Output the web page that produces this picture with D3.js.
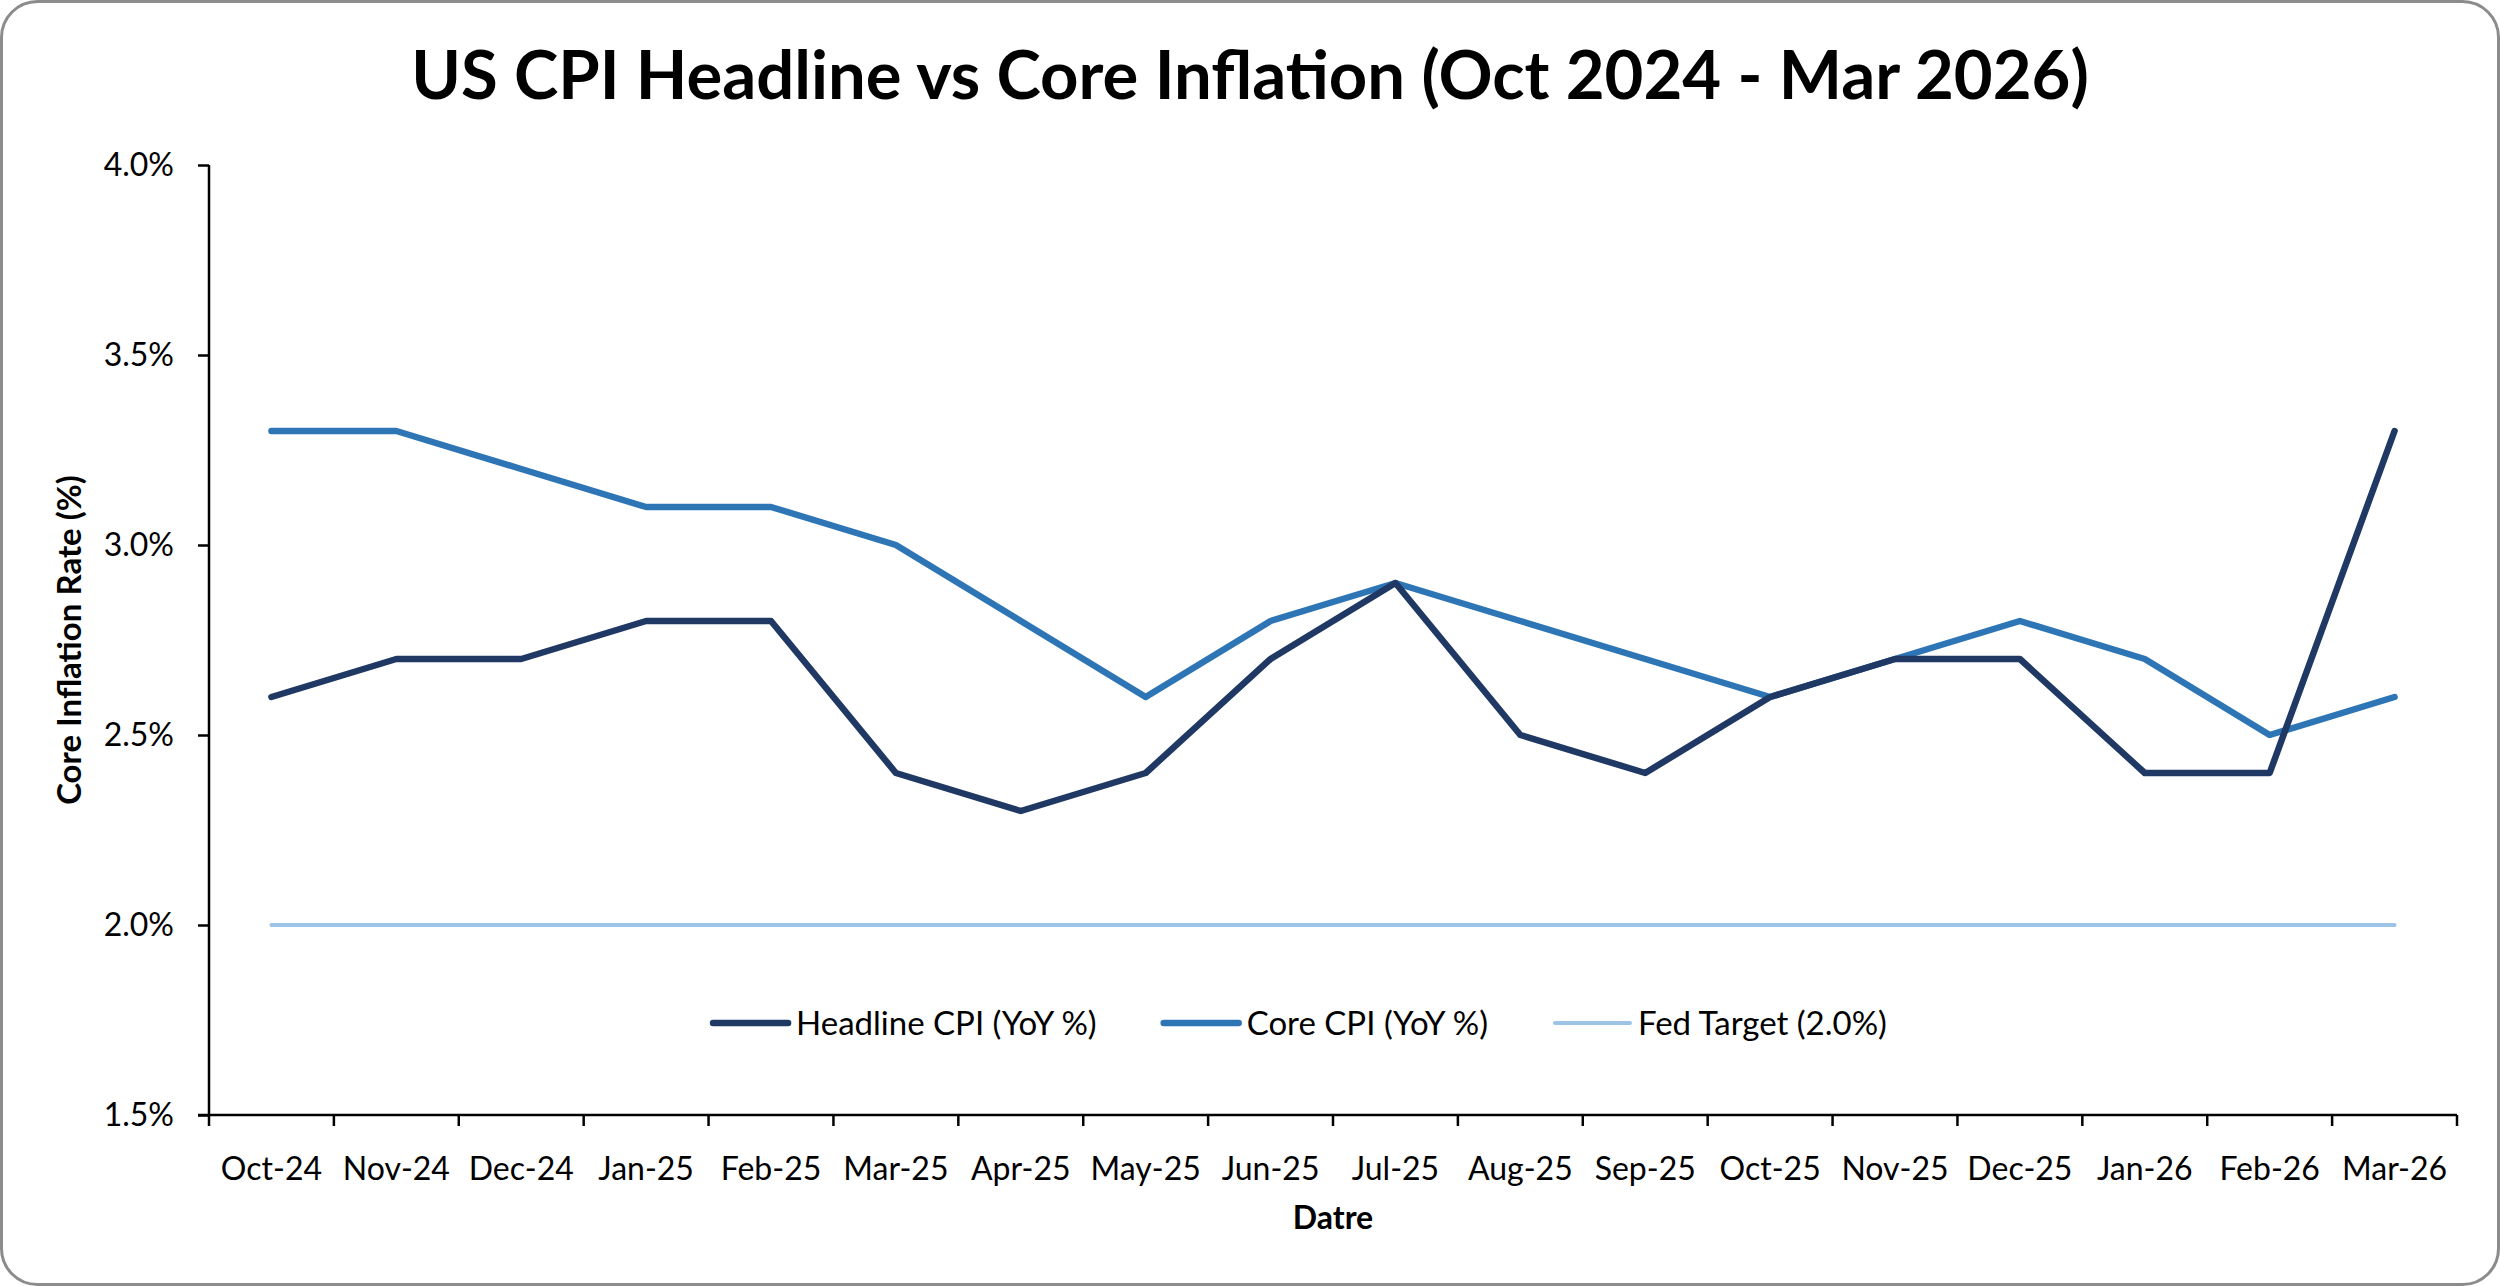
<!DOCTYPE html>
<html>
<head>
<meta charset="utf-8">
<script src="https://cdn.jsdelivr.net/npm/d3@7"></script>
<style>
  html, body { margin: 0; padding: 0; background: #fff; }
  svg text { font-family: Lato, "Open Sans", sans-serif; fill: #000; }
</style>
</head>
<body>
<div id="chart"></div>
<script>
// chart data
var months = ["Oct-24", "Nov-24", "Dec-24", "Jan-25", "Feb-25", "Mar-25", "Apr-25", "May-25", "Jun-25",
              "Jul-25", "Aug-25", "Sep-25", "Oct-25", "Nov-25", "Dec-25", "Jan-26", "Feb-26", "Mar-26"];
var headline = [2.6, 2.7, 2.7, 2.8, 2.8, 2.4, 2.3, 2.4, 2.7, 2.9, 2.5, 2.4, 2.6, 2.7, 2.7, 2.4, 2.4, 3.3];
var core     = [3.3, 3.3, 3.2, 3.1, 3.1, 3.0, 2.8, 2.6, 2.8, 2.9, 2.8, 2.7, 2.6, 2.7, 2.8, 2.7, 2.5, 2.6];
var fedTarget = [2.0, 2.0, 2.0, 2.0, 2.0, 2.0, 2.0, 2.0, 2.0, 2.0, 2.0, 2.0, 2.0, 2.0, 2.0, 2.0, 2.0, 2.0];
var seriesNames = ["Headline CPI (YoY %)", "Core CPI (YoY %)", "Fed Target (2.0%)"];
var yTicks = [1.5, 2.0, 2.5, 3.0, 3.5, 4.0];

var W = 2500, H = 1286;
var m = {left: 209, right: 2457, top: 165, bottom: 1115};

var svg = d3.select('#chart').append('svg').attr('width', W).attr('height', H);

// frame
svg.append('rect')
  .attr('x', 1.5).attr('y', 1.5)
  .attr('width', W - 3).attr('height', H - 3)
  .attr('rx', 36).attr('ry', 36)
  .style('fill', '#fff').style('stroke', '#8c8c8c').style('stroke-width', 3);

var x = d3.scaleBand().domain(months).range([m.left, m.right]).padding(0);
var y = d3.scaleLinear().domain([1.5, 4.0]).range([m.bottom, m.top]);

// y axis
var yAxis = svg.append('g')
  .attr('transform', 'translate(' + m.left + ',0)')
  .call(d3.axisLeft(y).tickValues(yTicks).tickSize(11).tickPadding(24)
    .tickFormat(function(d) { return d.toFixed(1) + '%'; }));
yAxis.select('.domain').remove();
yAxis.selectAll('.tick line').style('stroke', '#000').style('stroke-width', 2.5);
yAxis.selectAll('.tick text').style('font-size', '32px').style('font-family', 'Lato');

// x axis (ticks between categories)
var xAxis = svg.append('g')
  .attr('transform', 'translate(0,' + m.bottom + ')')
  .call(d3.axisBottom(x).tickSize(0).tickPadding(42));
xAxis.select('.domain').remove();
xAxis.selectAll('.tick text').style('font-size', '32px').style('font-family', 'Lato');

var bounds = months.map(function(d) { return x(d); }).concat([m.right]);
svg.append('g').selectAll('line')
  .data(bounds)
  .enter()
  .append('line')
  .attr('x1', function(d) { return d; })
  .attr('x2', function(d) { return d; })
  .attr('y1', m.bottom)
  .attr('y2', m.bottom + 11)
  .style('stroke', '#000').style('stroke-width', 2.5);

svg.append('line')
  .attr('x1', m.left).attr('x2', m.left)
  .attr('y1', m.top).attr('y2', m.bottom)
  .style('stroke', '#000').style('stroke-width', 2.5);
svg.append('line')
  .attr('x1', m.left - 11).attr('x2', m.right)
  .attr('y1', m.bottom).attr('y2', m.bottom)
  .style('stroke', '#000').style('stroke-width', 2.5);

// series lines
var series = [
  {name: seriesNames[0], values: headline, color: '#1f3864', width: 6.5},
  {name: seriesNames[1], values: core, color: '#2e75b6', width: 6.5},
  {name: seriesNames[2], values: fedTarget, color: '#9dc3e6', width: 4}
];

var line = d3.line()
  .x(function(d, i) { return x(months[i]) + x.bandwidth() / 2; })
  .y(function(d) { return y(d); });

// fed target drawn first so the CPI lines sit on top
svg.append('g').selectAll('path')
  .data(series.slice().reverse())
  .enter()
  .append('path')
  .attr('d', function(d) { return line(d.values); })
  .style('fill', 'none')
  .style('stroke', function(d) { return d.color; })
  .style('stroke-width', function(d) { return d.width; })
  .style('stroke-linejoin', 'round')
  .style('stroke-linecap', 'round');

// titles
svg.append('text')
  .attr('x', W / 2).attr('y', 99)
  .attr('text-anchor', 'middle')
  .style('font-size', '67px').style('font-weight', 'bold')
  .text('US CPI Headline vs Core Inflation (Oct 2024 - Mar 2026)');

svg.append('text')
  .attr('transform', 'translate(81,' + ((m.top + m.bottom) / 2) + ') rotate(-90)')
  .attr('text-anchor', 'middle')
  .style('font-size', '33px').style('font-weight', 'bold')
  .text('Core Inflation Rate (%)');

svg.append('text')
  .attr('x', (m.left + m.right) / 2).attr('y', 1229)
  .attr('text-anchor', 'middle')
  .style('font-size', '32px').style('font-weight', 'bold')
  .text('Datre');

// legend
var legend = svg.append('g');
var items = legend.selectAll('g')
  .data(series)
  .enter()
  .append('g');
items.append('line')
  .attr('x1', 0).attr('x2', 75)
  .attr('y1', 0).attr('y2', 0)
  .style('stroke', function(d) { return d.color; })
  .style('stroke-width', function(d) { return d.width; })
  .style('stroke-linecap', 'round');
items.append('text')
  .attr('x', 83).attr('y', 12)
  .style('font-size', '33px')
  .text(function(d) { return d.name; });

var pos = 0;
items.each(function() {
  var w = this.getBBox().width;
  d3.select(this).attr('data-x', pos);
  pos += w + 67;
});
var total = pos - 67;
var start = 1300 - total / 2;
items.attr('transform', function() {
  return 'translate(' + (start + (+this.getAttribute('data-x'))) + ',1023)';
});
</script>
</body>
</html>
